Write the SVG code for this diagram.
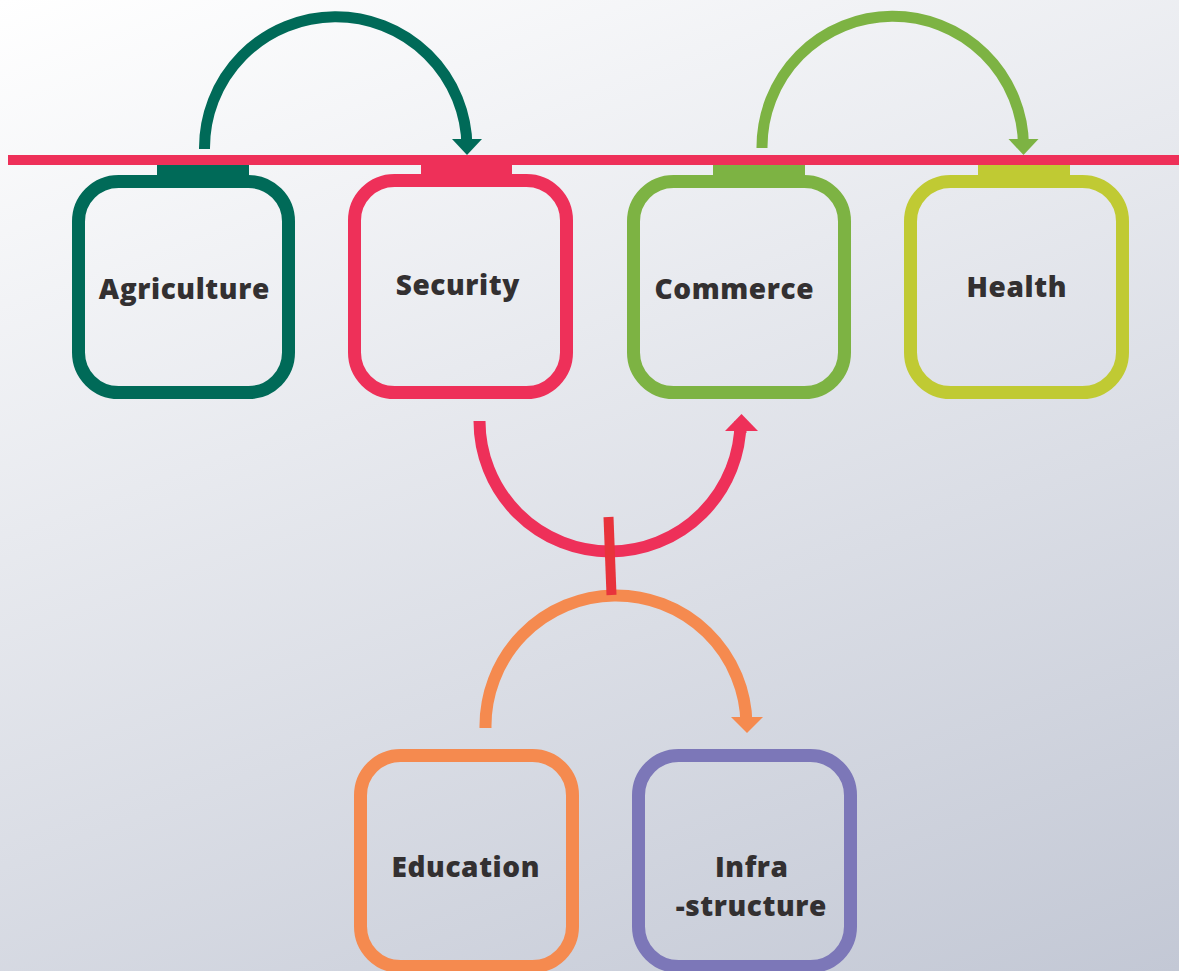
<svg xmlns="http://www.w3.org/2000/svg" width="1179" height="971" viewBox="0 0 1179 971">
  <defs>
    <linearGradient id="bg" gradientUnits="userSpaceOnUse" x1="0" y1="0" x2="455" y2="1237">
      <stop offset="0" stop-color="#ffffff"/>
      <stop offset="1" stop-color="#c3c8d5"/>
    </linearGradient>
  </defs>
  <style>
    .box { fill: none; stroke-width: 13; }
    .lbl { font-family: "Open Sans", "Liberation Sans", sans-serif; font-weight: 800; font-size: 28px; letter-spacing: 0.6px; fill: #333031; text-anchor: middle; }
    .arc { fill: none; stroke-linecap: butt; }
    .dg { stroke: #006a58; } .dgf { fill: #006a58; }
    .rd { stroke: #ee3059; } .rdf { fill: #ee3059; }
    .gr { stroke: #7db343; } .grf { fill: #7db343; }
    .lm { stroke: #c0ca33; } .lmf { fill: #c0ca33; }
    .or { stroke: #f58a4f; } .orf { fill: #f58a4f; }
    .pu { stroke: #7c77b8; }
  </style>
  <rect x="0" y="0" width="1179" height="971" fill="url(#bg)"/>

  <g id="connectors">
    <rect x="8" y="155" width="1171" height="10" class="rdf"/>
    <path class="arc dg" stroke-width="11" d="M 204.5 149 A 131.25 131.25 0 0 1 467 147"/>
    <polygon class="dgf" points="452,139 482,139 467,155"/>
    <path class="arc gr" stroke-width="11" d="M 762 148 A 130.75 130.75 0 0 1 1023.5 146"/>
    <polygon class="grf" points="1008.5,139 1038.5,139 1023.5,155"/>
    <path class="arc rd" stroke-width="12" d="M 479.5 421 A 130.5 130.5 0 0 0 740.5 421 L 740.5 433"/>
    <polygon class="rdf" points="725,431 758,431 741.5,414"/>
    <path class="arc or" stroke-width="12" d="M 485.5 728 A 130.5 130.5 0 0 1 746.5 724"/>
    <polygon class="orf" points="731,717 763,717 747,733"/>
    <line x1="608.5" y1="517" x2="611.5" y2="595" stroke="#e8333b" stroke-width="10"/>
  </g>

  <g id="agriculture">
    <rect x="157" y="165" width="92" height="12" class="dgf"/>
    <rect x="78.5" y="181.5" width="210" height="211" rx="40" class="box dg"/>
    <text class="lbl" x="184.3" y="299">Agriculture</text>
  </g>
  <g id="security">
    <rect x="421" y="160" width="91" height="17" class="rdf"/>
    <rect x="354.5" y="180.5" width="212" height="212" rx="40" class="box rd"/>
    <text class="lbl" x="457.8" y="295">Security</text>
  </g>
  <g id="commerce">
    <rect x="713" y="165" width="92" height="12" class="grf"/>
    <rect x="633.5" y="181.5" width="211" height="211" rx="40" class="box gr"/>
    <text class="lbl" x="734.3" y="299">Commerce</text>
  </g>
  <g id="health">
    <rect x="978" y="165" width="92" height="12" class="lmf"/>
    <rect x="910.5" y="181.5" width="212" height="211" rx="40" class="box lm"/>
    <text class="lbl" x="1016.8" y="297">Health</text>
  </g>
  <g id="education">
    <rect x="360.5" y="755.5" width="212" height="211" rx="40" class="box or"/>
    <text class="lbl" x="465.8" y="877">Education</text>
  </g>
  <g id="infrastructure">
    <rect x="638.5" y="755.5" width="212" height="211" rx="40" class="box pu"/>
    <text class="lbl" x="751.8" y="877">Infra</text>
    <text class="lbl" x="751.3" y="916">-structure</text>
  </g>
</svg>
